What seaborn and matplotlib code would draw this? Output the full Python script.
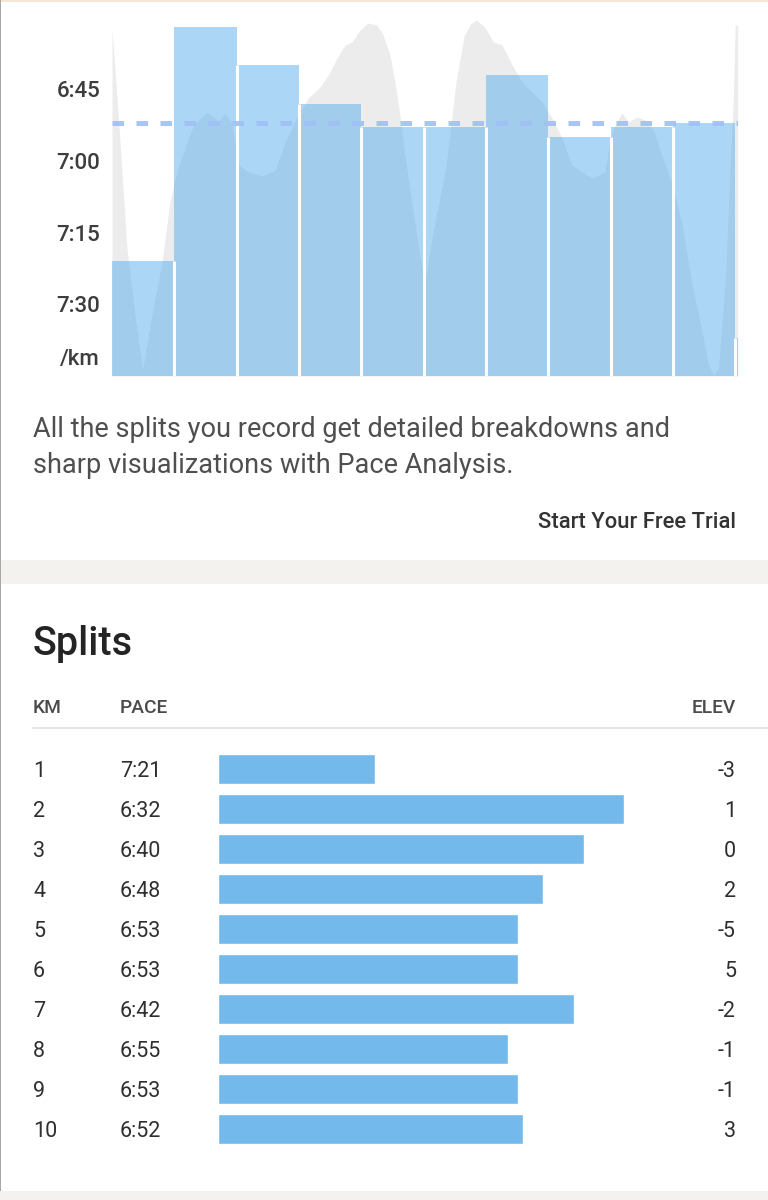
import numpy as np
import pandas as pd
import matplotlib
matplotlib.use("Agg")
import matplotlib.pyplot as plt
import matplotlib.transforms as mtransforms
from matplotlib.patches import Rectangle
import seaborn as sns

# ---------------- data ----------------
KM = [1, 2, 3, 4, 5, 6, 7, 8, 9, 10]
PACE_S = [441, 392, 400, 408, 413, 413, 402, 415, 413, 412]      # seconds per km
ELEV_GAIN = [-3, 1, 0, 2, -5, 5, -2, -1, -1, 3]                  # metres
SPLIT_KM = [1.0, 1.0, 1.0, 1.0, 1.0, 1.0, 1.0, 1.0, 1.0, 1.0]
PARTIAL_KM = 0.04
PARTIAL_PACE_S = 457
AVG_PACE_S = 412

Y_TICK_PACE_S = [405, 420, 435, 450]
Y_TICK_LABELS = ["6:45", "7:00", "7:15", "7:30"]

PROFILE_KM = [0.00, 0.10, 0.24, 0.37, 0.49, 0.64, 0.80, 0.93, 1.04, 1.17, 1.31, 1.52,
              1.71, 1.81, 1.92, 2.04, 2.16, 2.40, 2.62, 2.78, 2.96, 3.15, 3.34, 3.50,
              3.61, 3.74, 3.85, 3.98, 4.11, 4.25, 4.35, 4.46, 4.54, 4.62, 4.70, 4.81,
              4.92, 5.02, 5.15, 5.36, 5.52, 5.65, 5.75, 5.85, 5.99, 6.12, 6.26, 6.42,
              6.58, 6.74, 6.90, 7.06, 7.22, 7.38, 7.54, 7.70, 7.81, 7.91, 7.97, 8.05,
              8.18, 8.29, 8.42, 8.56, 8.69, 8.82, 8.98, 9.14, 9.30, 9.47, 9.57, 9.65,
              9.73, 9.84, 9.92, 9.97, 10.00, 10.04]
PROFILE_ELEV_M = [6.96, 5.22, 2.56, 1.22, 0.12, 1.22, 2.26, 3.48, 4.08, 4.56, 5.02, 5.28,
                  5.10, 5.26, 5.08, 4.22, 4.10, 4.00, 4.12, 4.68, 5.16, 5.56, 5.78, 6.08,
                  6.36, 6.62, 6.68, 6.92, 7.06, 7.02, 6.82, 6.42, 5.88, 5.22, 4.42, 3.48,
                  2.56, 1.88, 2.86, 4.20, 5.88, 6.80, 7.04, 7.12, 6.96, 6.68, 6.62, 6.22,
                  5.88, 5.68, 5.48, 5.16, 4.76, 4.22, 4.08, 3.96, 4.02, 4.08, 4.56, 4.96,
                  5.26, 5.08, 5.18, 5.12, 4.92, 4.42, 3.88, 3.08, 1.88, 0.88, 0.22, 0.02,
                  0.16, 1.88, 4.22, 5.56, 7.02, 7.02]

# ---------------- styling ----------------
W, H, DPI = 768, 1200, 100
BASE_PACE_S = 465          # chart floor (7:45 /km)
CHART_SPAN_S = 75          # visible pace span
ELEV_TOP_M = 7.17
TABLE_ZERO_PACE_S = 472
TABLE_SPAN_S = 87
BAR_COLOR = "#47a6eb"
TABLE_BAR_COLOR = "#74b9eb"
ELEV_COLOR = "#ececec"
AVG_COLOR = "#9fc0f4"
FONT = ["Roboto", "DejaVu Sans"]

sns.set_theme(style="white")
plt.rcParams["font.family"] = FONT


def fx(px):
    return px / W


def fy(py):
    return 1 - py / H


def fmt_pace(s):
    return f"{s // 60}:{s % 60:02d}"


fig = plt.figure(figsize=(W / DPI, H / DPI), dpi=DPI)
fig.patch.set_facecolor("white")

# page decorations
fig.patches.append(Rectangle((0, fy(584)), 1, 24 / H, transform=fig.transFigure,
                             facecolor="#f4f2ef", edgecolor="none", zorder=0))
fig.patches.append(Rectangle((0, 0), 1, 9 / H, transform=fig.transFigure,
                             facecolor="#f4f2ef", edgecolor="none", zorder=0))
fig.patches.append(Rectangle((0, fy(2)), 1, 2 / H, transform=fig.transFigure,
                             facecolor="#f6e6da", edgecolor="none", zorder=0))
fig.patches.append(Rectangle((0, fy(1191)), 1.4 / W, 1191 / H, transform=fig.transFigure,
                             facecolor="#a8a8a8", edgecolor="none", zorder=0))

# ---------------- pace chart ----------------
ax_left, ax_right = 112, 737.7
ax_bottom = 376
ax_h_px = CHART_SPAN_S * 4.78
rect = [fx(ax_left), fy(ax_bottom), (ax_right - ax_left) / W, ax_h_px / H]

ax_elev = fig.add_axes(rect)
ax_elev.fill_between(PROFILE_KM, 0, PROFILE_ELEV_M, color=ELEV_COLOR, lw=0)
total_km = sum(SPLIT_KM) + PARTIAL_KM
ax_elev.set_xlim(0, total_km)
ax_elev.set_ylim(0, ELEV_TOP_M)
ax_elev.axis("off")

ax_bar = fig.add_axes(rect)
ax_bar.set_facecolor("none")
split_km = SPLIT_KM + [PARTIAL_KM]
paces = PACE_S + [PARTIAL_PACE_S]
edges = [0.0] + [float(v) for v in np.cumsum(split_km)]
mids = [(a + b) / 2 for a, b in zip(edges[:-1], edges[1:])]
heights = [float(BASE_PACE_S - p) for p in paces]
df_chart = pd.DataFrame({"mid": mids, "height": heights})
sns.histplot(data=df_chart, x="mid", weights="height", bins=edges, stat="count",
             color=BAR_COLOR, alpha=0.45, linewidth=0, element="bars", fill=True,
             ax=ax_bar)
# white separators between splits, up to the lower neighbour
sep_top = [min(heights[i - 1], heights[i]) for i in range(1, len(heights))]
ax_bar.vlines(edges[1:-1], 0, sep_top, colors="white", lw=2.2, zorder=3)
# average pace
avg_y = BASE_PACE_S - AVG_PACE_S
ax_bar.plot([0, total_km], [avg_y, avg_y], color=AVG_COLOR, lw=3.6,
            dashes=(2.3, 2.5), dash_capstyle="butt", alpha=0.9, zorder=4)

ax_bar.set_xlim(0, total_km)
ax_bar.set_ylim(0, CHART_SPAN_S)
ax_bar.set_xlabel("")
ax_bar.set_ylabel("")
ax_bar.set_xticks([])
ax_bar.set_yticks([BASE_PACE_S - p for p in Y_TICK_PACE_S] + [4])
ax_bar.set_yticklabels(Y_TICK_LABELS + ["/km"])
ax_bar.tick_params(axis="y", length=0, pad=8.6, labelsize=16, labelcolor="#3d3d3d")
for lab in ax_bar.get_yticklabels():
    lab.set_fontweight("medium")
sns.despine(ax=ax_bar, left=True, bottom=True)

# ---------------- promo text ----------------
fig.text(fx(33), fy(437), "All the splits you record get detailed breakdowns and",
         fontsize=19.5, color="#4f4f4f", va="baseline", ha="left", weight="normal")
fig.text(fx(33), fy(473), "sharp visualizations with Pace Analysis.",
         fontsize=19.5, color="#4f4f4f", va="baseline", ha="left", weight="normal")
fig.text(fx(736), fy(528), "Start Your Free Trial", fontsize=15.8, color="#333333",
         va="baseline", ha="right", weight="medium")

# ---------------- splits table ----------------
fig.text(fx(33), fy(655), "Splits", fontsize=28.5, color="#242424", va="baseline",
         ha="left", weight="medium")
for txt, px, ha in [("KM", 33, "left"), ("PACE", 120, "left"), ("ELEV", 736, "right")]:
    fig.text(fx(px), fy(713), txt, fontsize=13.8, color="#4a4a4a", va="baseline",
             ha=ha, weight="medium")
fig.lines.append(plt.Line2D([fx(33), 1.0], [fy(728), fy(728)], transform=fig.transFigure,
                            color="#e6e6e6", lw=1.5))

row_top, row_pitch = 749, 40
t_left, t_right = 218, 660
ax_t = fig.add_axes([fx(t_left), fy(row_top + row_pitch * len(KM)),
                     (t_right - t_left) / W, row_pitch * len(KM) / H])
ax_t.set_facecolor("none")
df_tab = pd.DataFrame({"km": [str(k) for k in KM],
                       "length": [TABLE_ZERO_PACE_S - p for p in PACE_S]})
sns.barplot(data=df_tab, x="length", y="km", orient="h", color=TABLE_BAR_COLOR,
            width=0.76, saturation=1, ax=ax_t)
ax_t.set_xlim(0, TABLE_SPAN_S)
ax_t.set_ylim(len(KM) - 0.5, -0.5)
ax_t.axis("off")

row_trans = mtransforms.offset_copy(
    mtransforms.blended_transform_factory(fig.transFigure, ax_t.transData),
    fig=fig, x=0, y=-8, units="dots")
for i, (k, p, e) in enumerate(zip(KM, PACE_S, ELEV_GAIN)):
    kw = dict(transform=row_trans, fontsize=15.5, color="#2f2f2f", va="baseline",
              weight="normal")
    fig.text(fx(33), i, str(k), ha="left", **kw)
    fig.text(fx(120), i, fmt_pace(p), ha="left", **kw)
    fig.text(fx(736), i, str(e), ha="right", **kw)

fig.savefig("out.png", dpi=DPI, facecolor="white")
